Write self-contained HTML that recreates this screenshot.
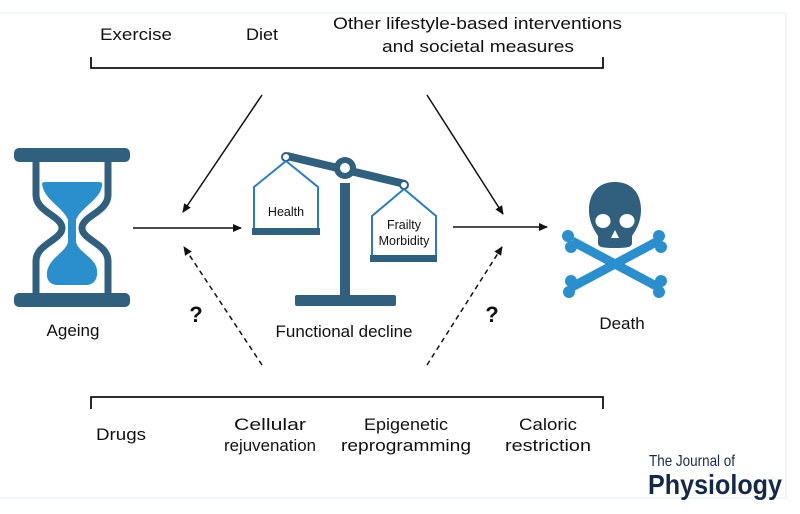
<!DOCTYPE html>
<html><head><meta charset="utf-8"><style>
html,body{margin:0;padding:0;background:#fff}
svg{display:block}
text{font-family:"Liberation Sans",Arial,sans-serif;fill:#111}
</style></head><body>
<svg width="800" height="514" viewBox="0 0 800 514" xmlns="http://www.w3.org/2000/svg">
<defs>
<marker id="ah" markerWidth="10" markerHeight="10" refX="8" refY="5" orient="auto" markerUnits="userSpaceOnUse">
<path d="M0,1 L9,5 L0,9 Z" fill="#111"/></marker>
</defs>
<rect x="0" y="0" width="800" height="514" fill="#fff"/>
<line x1="0" y1="13" x2="786" y2="13" stroke="#e6ecf2" stroke-width="1"/>
<line x1="786" y1="13" x2="786" y2="498" stroke="#e6ecf2" stroke-width="1"/>
<line x1="0" y1="498" x2="786" y2="498" stroke="#e6ecf2" stroke-width="1"/>

<!-- top texts -->
<text x="100" y="40" font-size="17" textLength="72" lengthAdjust="spacingAndGlyphs">Exercise</text>
<text x="246" y="40" font-size="17" textLength="32" lengthAdjust="spacingAndGlyphs">Diet</text>
<text x="333" y="29" font-size="17" textLength="289" lengthAdjust="spacingAndGlyphs">Other lifestyle-based interventions</text>
<text x="382" y="52" font-size="17" textLength="192" lengthAdjust="spacingAndGlyphs">and societal measures</text>
<path d="M91,57 V68 H603 V57" fill="none" stroke="#111" stroke-width="1.8"/>

<!-- bottom bracket -->
<path d="M91,409 V397 H603 V409" fill="none" stroke="#111" stroke-width="1.8"/>
<text x="96" y="440" font-size="17" textLength="50" lengthAdjust="spacingAndGlyphs">Drugs</text>
<text x="270" y="430" font-size="17" text-anchor="middle" textLength="72" lengthAdjust="spacingAndGlyphs">Cellular</text>
<text x="270" y="451" font-size="17" text-anchor="middle" textLength="92" lengthAdjust="spacingAndGlyphs">rejuvenation</text>
<text x="406" y="430" font-size="17" text-anchor="middle" textLength="84" lengthAdjust="spacingAndGlyphs">Epigenetic</text>
<text x="406" y="451" font-size="17" text-anchor="middle" textLength="130" lengthAdjust="spacingAndGlyphs">reprogramming</text>
<text x="548" y="430" font-size="17" text-anchor="middle" textLength="58" lengthAdjust="spacingAndGlyphs">Caloric</text>
<text x="548" y="451" font-size="17" text-anchor="middle" textLength="86" lengthAdjust="spacingAndGlyphs">restriction</text>

<!-- arrows -->
<line x1="262" y1="95" x2="183" y2="212" stroke="#111" stroke-width="1.5" marker-end="url(#ah)"/>
<line x1="427" y1="95" x2="503" y2="214" stroke="#111" stroke-width="1.5" marker-end="url(#ah)"/>
<line x1="133" y1="228" x2="241" y2="228" stroke="#111" stroke-width="1.5" marker-end="url(#ah)"/>
<line x1="453" y1="227" x2="547" y2="227" stroke="#111" stroke-width="1.5" marker-end="url(#ah)"/>
<line x1="262" y1="365" x2="184" y2="247" stroke="#111" stroke-width="1.5" stroke-dasharray="5,4" marker-end="url(#ah)"/>
<line x1="427" y1="365" x2="502" y2="247" stroke="#111" stroke-width="1.5" stroke-dasharray="5,4" marker-end="url(#ah)"/>
<text x="196" y="322" font-size="22" font-weight="bold" text-anchor="middle">?</text>
<text x="492" y="322" font-size="22" font-weight="bold" text-anchor="middle">?</text>

<!-- hourglass -->
<g>
<rect x="14" y="148" width="116" height="14" rx="5" fill="#30607e"/>
<rect x="14" y="293" width="116" height="14" rx="5" fill="#30607e"/>
<path d="M36,162 V195 C36,212 62,216 62,228 C62,240 36,244 36,261 V293 M108,162 V195 C108,212 82,216 82,228 C82,240 108,244 108,261 V293" fill="none" stroke="#30607e" stroke-width="7"/>
<path d="M42,184 Q42,182 46,182 H99 Q103,182 102,186 C100,200 80,208 76,220 V242 C78,252 96,258 97,270 C98,280 93,285 86,285 H58 C50,285 46,280 47,272 C49,258 66,252 68,242 V220 C64,208 44,200 42,184 Z" fill="#2a8fcc"/>
</g>
<text x="73" y="336" font-size="17" text-anchor="middle">Ageing</text>

<!-- scale -->
<g>
<rect x="295" y="295" width="101" height="11" rx="2" fill="#30607e"/>
<rect x="340" y="183" width="10" height="114" fill="#30607e"/>
<line x1="287" y1="156" x2="405" y2="184" stroke="#30607e" stroke-width="8"/>
<circle cx="345" cy="168" r="11" fill="#30607e"/>
<circle cx="345" cy="168" r="5" fill="#fff"/>
<circle cx="286" cy="157" r="4" fill="#fff" stroke="#30607e" stroke-width="2"/>
<circle cx="404" cy="185" r="4" fill="#fff" stroke="#30607e" stroke-width="2"/>
<path d="M286,161 L254,187 V229 M286,161 L318,187 V229" fill="none" stroke="#2a7cc4" stroke-width="2"/>
<rect x="252" y="228" width="68" height="7" fill="#30607e"/>
<path d="M404,189 L372,216 V256 M404,189 L436,216 V256" fill="none" stroke="#2a7cc4" stroke-width="2"/>
<rect x="370" y="255" width="67" height="7" fill="#30607e"/>
</g>
<text x="286" y="216" font-size="12.5" text-anchor="middle">Health</text>
<text x="404" y="229" font-size="12.5" text-anchor="middle">Frailty</text>
<text x="404" y="245" font-size="12.5" text-anchor="middle">Morbidity</text>
<text x="344" y="337" font-size="17" text-anchor="middle">Functional decline</text>

<!-- skull & bones -->
<g fill="#2a8fcc">
<line x1="572" y1="241" x2="658" y2="287" stroke="#2a8fcc" stroke-width="9"/>
<line x1="572" y1="287" x2="658" y2="241" stroke="#2a8fcc" stroke-width="9"/>
<circle cx="568" cy="236" r="6"/><circle cx="571" cy="247" r="6"/>
<circle cx="661" cy="281" r="6"/><circle cx="659" cy="292" r="6"/>
<circle cx="569" cy="292" r="6"/><circle cx="571" cy="281" r="6"/>
<circle cx="661" cy="247" r="6"/><circle cx="659" cy="236" r="6"/>
</g>
<path d="M615,182 C596,182 589,196 589,210 C589,222 594,230 598,236 V243 C598,247 602,248 615,248 C628,248 632,247 632,243 V236 C636,230 641,222 641,210 C641,196 634,182 615,182 Z" fill="#30607e"/>
<ellipse cx="603" cy="221" rx="7.5" ry="7" fill="#fff"/>
<ellipse cx="627" cy="221" rx="7.5" ry="7" fill="#fff"/>
<path d="M615,230 L611,238 H619 Z" fill="#fff"/>
<text x="622" y="329" font-size="17" text-anchor="middle">Death</text>

<!-- logo -->
<text x="649" y="466" font-size="16" textLength="86" lengthAdjust="spacingAndGlyphs" style="fill:#1a2a4a">The Journal of</text>
<text x="648" y="494" font-size="28" font-weight="bold" textLength="134" lengthAdjust="spacingAndGlyphs" style="fill:#14284a">Physiology</text>
</svg>
</body></html>
